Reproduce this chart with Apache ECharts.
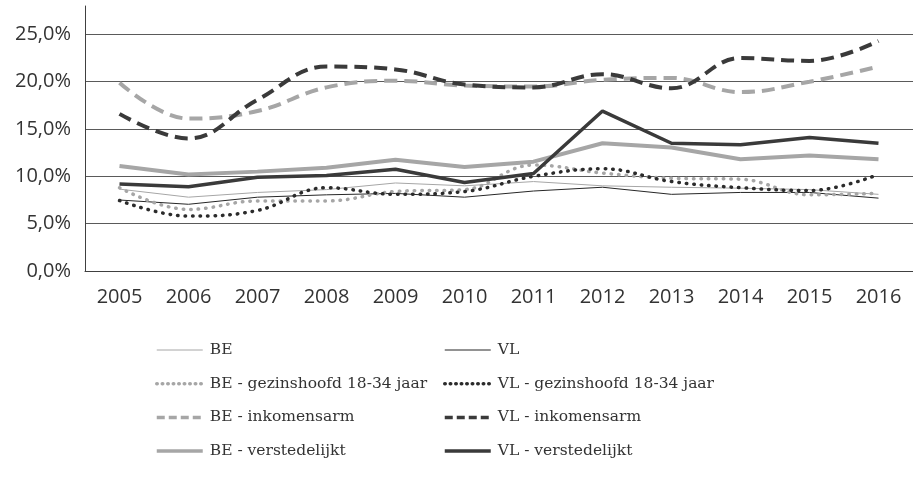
<!DOCTYPE html>
<html>
<head>
<meta charset="utf-8">
<script src="https://cdn.jsdelivr.net/npm/echarts@6/dist/echarts.min.js"></script>
<style>
  html, body { margin: 0; padding: 0; background: #fff; }
  #main { width: 913px; height: 487px; }
</style>
</head>
<body>
<div id="main"></div>
<script>
// years on the x axis
const years = ['2005', '2006', '2007', '2008', '2009', '2010', '2011', '2012', '2013', '2014', '2015', '2016'];

// percentages
const beAll        = [8.65, 7.8, 8.3, 8.6, 9.3, 9.0, 9.45, 9.0, 8.85, 8.75, 8.6, 8.1];
const vlAll        = [7.5, 7.05, 7.8, 8.05, 8.2, 7.8, 8.45, 8.85, 8.1, 8.3, 8.3, 7.7];
const beYoung      = [8.8, 6.5, 7.4, 7.4, 8.4, 8.6, 11.2, 10.35, 9.8, 9.7, 8.05, 8.2];
const vlYoung      = [7.45, 5.8, 6.4, 8.8, 8.1, 8.4, 10.0, 10.8, 9.45, 8.8, 8.5, 10.2];
const beLowIncome  = [19.9, 16.1, 16.9, 19.4, 20.1, 19.6, 19.5, 20.2, 20.4, 18.9, 20.0, 21.6];
const vlLowIncome  = [16.6, 14.0, 18.1, 21.6, 21.3, 19.7, 19.4, 20.8, 19.3, 22.5, 22.2, 24.3];
const beUrban      = [11.1, 10.2, 10.5, 10.9, 11.75, 11.0, 11.55, 13.5, 13.05, 11.8, 12.2, 11.8];
const vlUrban      = [9.2, 8.9, 9.9, 10.1, 10.75, 9.35, 10.3, 16.9, 13.5, 13.35, 14.1, 13.5];

const LIGHT = '#a6a6a6';
const DARK = '#3a3a3a';

const styles = {
  'BE': { color: LIGHT, width: 1, type: 'solid', smooth: false },
  'VL': { color: '#262626', width: 1, type: 'solid', smooth: false },
  'BE - gezinshoofd 18-34 jaar': { color: LIGHT, width: 3.5, type: [0.5, 7], cap: 'round', smooth: 0.4 },
  'VL - gezinshoofd 18-34 jaar': { color: '#2b2b2b', width: 3.5, type: [0.5, 7], cap: 'round', smooth: 0.4 },
  'BE - inkomensarm': { color: LIGHT, width: 4, type: [13, 7], smooth: 0.4 },
  'VL - inkomensarm': { color: DARK, width: 4, type: [13, 7], smooth: 0.4 },
  'BE - verstedelijkt': { color: LIGHT, width: 4, type: 'solid', smooth: false },
  'VL - verstedelijkt': { color: DARK, width: 3.5, type: 'solid', smooth: false }
};

const seriesData = [
  ['BE', beAll], ['VL', vlAll],
  ['BE - gezinshoofd 18-34 jaar', beYoung], ['VL - gezinshoofd 18-34 jaar', vlYoung],
  ['BE - inkomensarm', beLowIncome], ['VL - inkomensarm', vlLowIncome],
  ['BE - verstedelijkt', beUrban], ['VL - verstedelijkt', vlUrban]
];

function lineStyleOf(name) {
  const s = styles[name];
  return { color: s.color, width: s.width, type: s.type, cap: s.cap || 'butt' };
}

// legend icons: same look as the series, dash pattern shrunk a bit
function legendItems(prefix) {
  return seriesData.filter(d => d[0].indexOf(prefix) === 0).map(d => {
    const s = styles[d[0]];
    let type = 'solid';
    if (Array.isArray(s.type)) type = s.type[0] < 1 ? [0.5, 5] : [8, 4];
    return {
      name: d[0],
      itemStyle: { opacity: 0 },
      lineStyle: { color: s.color, width: Math.min(s.width, 3.5), type: type, cap: s.cap || 'butt' }
    };
  });
}

const legendCommon = {
  orient: 'vertical',
  top: 342,
  padding: 0,
  itemWidth: 46,
  itemHeight: 14,
  itemGap: 17.7,
  textStyle: { fontFamily: 'DejaVu Serif', fontSize: 15.5, color: '#333333', padding: [0, 0, 0, 2] },
  selectedMode: false
};

const chart = echarts.init(document.getElementById('main'));
chart.setOption({
  animation: false,
  grid: { left: 85, right: 0, top: 6, bottom: 216, containLabel: false },
  legend: [
    Object.assign({ left: 155, data: legendItems('BE') }, legendCommon),
    Object.assign({ left: 443, data: legendItems('VL') }, legendCommon)
  ],
  xAxis: {
    type: 'category',
    data: years,
    boundaryGap: true,
    axisLine: { lineStyle: { color: '#404040', width: 1 } },
    axisTick: { show: false },
    axisLabel: { fontFamily: 'Open Sans', fontSize: 20, color: '#333333', margin: 16 }
  },
  yAxis: {
    type: 'value',
    min: 0,
    max: 28,
    interval: 5,
    axisLine: { show: true, lineStyle: { color: '#404040', width: 1 } },
    axisTick: { show: false },
    splitLine: { show: true, showMaxLine: false, lineStyle: { color: '#5a5a5a', width: 1 } },
    axisLabel: {
      fontFamily: 'Open Sans', fontSize: 20, color: '#333333', margin: 14,
      showMaxLabel: false,
      formatter: v => v.toFixed(1).replace('.', ',') + '%'
    }
  },
  series: seriesData.map(d => ({
    name: d[0],
    type: 'line',
    data: d[1],
    symbol: 'none',
    smooth: styles[d[0]].smooth,
    lineStyle: lineStyleOf(d[0]),
    itemStyle: { color: styles[d[0]].color }
  }))
});
</script>
</body>
</html>
